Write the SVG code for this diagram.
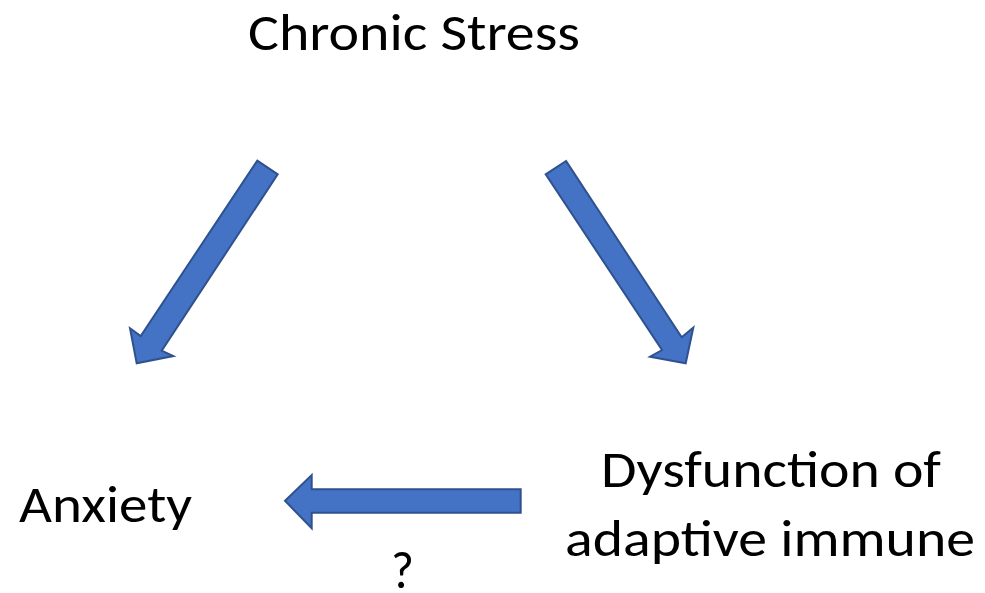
<svg xmlns="http://www.w3.org/2000/svg" width="985" height="593" viewBox="0 0 985 593">
<style>
.lbl{font-family:Carlito,Lato,"Liberation Sans",sans-serif;font-size:51px;fill:#000}
.arr{fill:#4472C4;stroke:#2F528F;stroke-width:2;stroke-linejoin:miter}
</style>
<rect width="985" height="593" fill="#fff"/>
<g id="chronic-stress"><text class="lbl" x="248" y="50" textLength="332" lengthAdjust="spacingAndGlyphs">Chronic Stress</text></g>
<g id="anxiety"><text class="lbl" x="19" y="522" textLength="173" lengthAdjust="spacingAndGlyphs">Anxiety</text></g>
<g id="dysfunction"><text class="lbl" x="601" y="487" textLength="340" lengthAdjust="spacingAndGlyphs">Dysfunction of</text><text class="lbl" x="565" y="556" textLength="410" lengthAdjust="spacingAndGlyphs">adaptive immune</text></g>
<g id="connectors">
<polygon class="arr" points="257.3,160.7 277.7,174.3 161.7,350.7 173.3,356 136.7,363.3 130,328.3 140.7,336"/>
<polygon class="arr" points="566,161 545.7,174.3 662,350 650,356.7 685.7,363.3 693.3,327.7 681.7,337.3"/>
<polygon class="arr" points="520.7,489.3 520.7,512.7 311.7,512.7 311.7,528.3 285,500.8 311.7,475 311.7,489.3"/>
<text class="lbl" x="391" y="588" textLength="23" lengthAdjust="spacingAndGlyphs">?</text>
</g>
</svg>
